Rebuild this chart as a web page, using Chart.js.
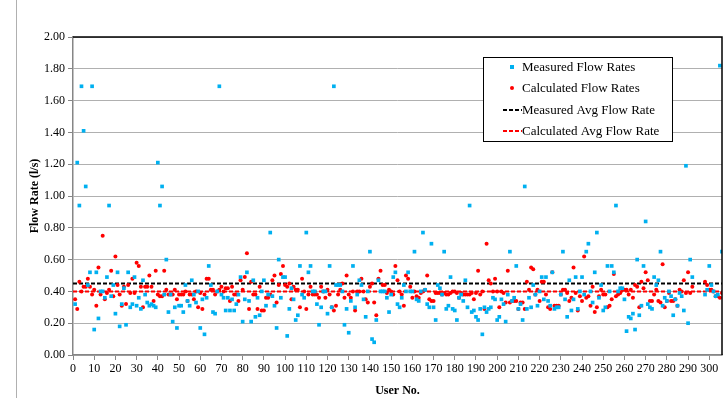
<!DOCTYPE html>
<html>
<head>
<meta charset="utf-8">
<script src="https://cdn.jsdelivr.net/npm/chart.js@4.4.1/dist/chart.umd.min.js"></script>
<style>
  html, body { margin: 0; padding: 0; background: #fff; }
  #wrap { width: 726px; height: 398px; position: relative; }
</style>
</head>
<body>
<div id="wrap"><canvas id="chart"></canvas></div>
<script>
// flow rates per user (l/s); users 293-297 have no reading
const measuredFlow = [
    0.32, 1.21, 0.94, 1.69, 1.41, 1.06, 0.44, 0.52, 1.69, 0.16,
    0.52, 0.23, 0.40, 0.40, 0.36, 0.49, 0.94, 0.37, 0.44, 0.26,
    0.52, 0.18, 0.32, 0.42, 0.19, 0.52, 0.30, 0.32, 0.49, 0.31,
    0.36, 0.29, 0.47, 0.38, 0.33, 0.31, 0.32, 0.31, 0.30, 1.21,
    0.94, 1.06, 0.38, 0.60, 0.27, 0.38, 0.21, 0.30, 0.17, 0.31,
    0.31, 0.27, 0.44, 0.34, 0.31, 0.47, 0.38, 0.33, 0.40, 0.17,
    0.35, 0.13, 0.36, 0.56, 0.44, 0.27, 0.26, 0.40, 1.69, 0.38,
    0.36, 0.28, 0.36, 0.28, 0.35, 0.28, 0.32, 0.38, 0.49, 0.21,
    0.35, 0.52, 0.34, 0.21, 0.47, 0.24, 0.36, 0.25, 0.40, 0.47,
    0.31, 0.38, 0.77, 0.37, 0.31, 0.17, 0.60, 0.36, 0.49, 0.49,
    0.12, 0.29,
    0.42, 0.35, 0.22, 0.25, 0.56, 0.38, 0.36, 0.77, 0.52, 0.56,
    0.40, 0.40, 0.32, 0.19, 0.30, 0.40, 0.40, 0.26, 0.56, 0.30,
    1.69, 0.44, 0.44, 0.44, 0.40, 0.19, 0.29, 0.14, 0.34, 0.56,
    0.30, 0.38, 0.47, 0.44, 0.35, 0.24, 0.40, 0.65, 0.10, 0.08,
    0.22, 0.47, 0.40, 0.40, 0.40, 0.36, 0.27, 0.38, 0.49, 0.52,
    0.32, 0.30,
    0.36, 0.44, 0.40, 0.52, 0.40, 0.40, 0.65, 0.35, 0.34, 0.40,
    0.77, 0.41, 0.32, 0.30, 0.70, 0.30, 0.22, 0.44, 0.42, 0.38,
    0.65, 0.29, 0.31, 0.49, 0.29, 0.28, 0.22, 0.36, 0.38, 0.34,
    0.47, 0.30, 0.94, 0.27, 0.28, 0.24, 0.22, 0.29, 0.13, 0.30,
    0.27, 0.29, 0.30, 0.36, 0.35, 0.22, 0.24, 0.35, 0.32, 0.21,
    0.38, 0.65,
    0.34, 0.36, 0.56, 0.29, 0.32, 0.22, 1.06, 0.29, 0.36, 0.30,
    0.44, 0.38, 0.31, 0.40, 0.49, 0.35, 0.49, 0.34, 0.31, 0.52,
    0.29, 0.30, 0.30, 0.38, 0.65, 0.35, 0.24, 0.47, 0.28, 0.35,
    0.49, 0.29, 0.40, 0.49, 0.38, 0.65, 0.70, 0.40, 0.33, 0.52,
    0.77, 0.36, 0.44, 0.28, 0.30, 0.56, 0.40, 0.56, 0.52, 0.94,
    0.40, 0.42,
    0.42, 0.35, 0.15, 0.24, 0.23, 0.26, 0.16, 0.60, 0.25, 0.31,
    0.56, 0.84, 0.32, 0.30, 0.29, 0.49, 0.44, 0.47, 0.65, 0.31,
    0.36, 0.34, 0.40, 0.37, 0.25, 0.35, 0.31, 0.39, 0.37, 0.28,
    1.19, 0.20, 0.60, 0.49,
    null, null, null, null, null,
    0.38, 0.41, 0.56, 0.44, 0.40, 0.37, 0.38, 1.82, 0.65
];

const calculatedFlow = [
    0.35, 0.29, 0.46, 0.40, 0.43, 0.43, 0.48, 0.43, 0.38, 0.41,
    0.31, 0.55, 0.38, 0.75, 0.35, 0.39, 0.41, 0.53, 0.37, 0.62,
    0.44, 0.38, 0.31, 0.43, 0.32, 0.44, 0.39, 0.48, 0.39, 0.58,
    0.56, 0.43, 0.30, 0.43, 0.43, 0.50, 0.43, 0.34, 0.53, 0.38,
    0.37, 0.37, 0.53, 0.41, 0.38, 0.38, 0.38, 0.41, 0.35, 0.38,
    0.38, 0.38, 0.40, 0.34, 0.38, 0.38, 0.35, 0.40, 0.30, 0.39,
    0.29, 0.38, 0.48, 0.48, 0.41, 0.41, 0.38, 0.40, 0.41, 0.43,
    0.40, 0.42, 0.42, 0.34, 0.43, 0.38, 0.38, 0.34, 0.47, 0.41,
    0.49, 0.64, 0.29, 0.46, 0.38, 0.38, 0.29, 0.43, 0.28, 0.28,
    0.36, 0.36, 0.38, 0.47, 0.50, 0.33, 0.44, 0.51, 0.56, 0.44,
    0.43, 0.45,
    0.35, 0.43, 0.41, 0.41, 0.30, 0.48, 0.40, 0.29, 0.38, 0.43,
    0.38, 0.38, 0.38, 0.36, 0.43, 0.40, 0.36, 0.41, 0.38, 0.30,
    0.28, 0.31, 0.38, 0.41, 0.45, 0.36, 0.50, 0.38, 0.36, 0.40,
    0.28, 0.40, 0.40, 0.48, 0.40, 0.35, 0.33, 0.43, 0.45, 0.33,
    0.25, 0.48, 0.53, 0.44, 0.44, 0.39, 0.41, 0.40, 0.38, 0.56,
    0.47, 0.40,
    0.38, 0.31, 0.50, 0.48, 0.43, 0.36, 0.40, 0.37, 0.36, 0.39,
    0.40, 0.41, 0.50, 0.35, 0.34, 0.34, 0.39, 0.39, 0.39, 0.38,
    0.39, 0.38, 0.38, 0.39, 0.40, 0.40, 0.39, 0.36, 0.39, 0.38,
    0.38, 0.38, 0.38, 0.39, 0.35, 0.39, 0.53, 0.38, 0.40, 0.29,
    0.70, 0.47, 0.45, 0.40, 0.48, 0.40, 0.30, 0.40, 0.39, 0.33,
    0.53, 0.33,
    0.34, 0.34, 0.34, 0.29, 0.33, 0.33, 0.29, 0.46, 0.41, 0.55,
    0.54, 0.38, 0.41, 0.34, 0.46, 0.46, 0.38, 0.30, 0.29, 0.52,
    0.31, 0.31, 0.31, 0.38, 0.41, 0.41, 0.39, 0.34, 0.36, 0.55,
    0.39, 0.28, 0.37, 0.34, 0.62, 0.36, 0.37, 0.31, 0.43, 0.27,
    0.30, 0.37, 0.41, 0.38, 0.38, 0.30, 0.31, 0.35, 0.51, 0.37,
    0.38, 0.39,
    0.41, 0.41, 0.41, 0.38, 0.41, 0.36, 0.44, 0.43, 0.30, 0.46,
    0.42, 0.52, 0.47, 0.34, 0.34, 0.38, 0.41, 0.34, 0.33, 0.57,
    0.30, 0.34, 0.39, 0.34, 0.34, 0.35, 0.31, 0.41, 0.40, 0.47,
    0.39, 0.52, 0.39, 0.43,
    null, null, null, null, null,
    0.46, 0.44, 0.41, 0.41, 0.40, 0.37, 0.37, 0.36, 0.39
];

const measuredAvg = 0.45;
const calculatedAvg = 0.40;
const userRange = [0, 306];
const userTicks = [0, 10, 20, 30, 40, 50, 60, 70, 80, 90, 100, 110, 120, 130, 140, 150,
    160, 170, 180, 190, 200, 210, 220, 230, 240, 250, 260, 270, 280, 290, 300];

const userNo = measuredFlow.map((_, i) => i + 1);

const toPoints = values => userNo
    .map((u, i) => ({ x: u, y: values[i] }))
    .filter(p => p.y !== null);

const avgLine = v => userRange.map(u => ({ x: u, y: v }));

const CYAN = '#00b0f0';
const RED = '#ff0000';
const SERIF = '"Liberation Serif", "Times New Roman", serif';

// plot frame (black top/right), outer chart edge and the boxed legend
const framePlugin = {
    id: 'frame',
    beforeDraw(chart) {
        const { ctx } = chart;
        ctx.save();
        ctx.strokeStyle = '#b0b0b0';
        ctx.lineWidth = 1;
        ctx.beginPath();
        ctx.moveTo(16.5, 0);
        ctx.lineTo(16.5, chart.height);
        ctx.stroke();
        ctx.restore();
    },
    afterDraw(chart) {
        const { ctx, chartArea: a } = chart;
        ctx.save();
        ctx.strokeStyle = '#000';
        ctx.lineWidth = 1.5;
        ctx.beginPath();
        ctx.moveTo(a.left, a.top);
        ctx.lineTo(a.right, a.top);
        ctx.lineTo(a.right, a.bottom);
        ctx.stroke();

        // legend box
        const bx = 483, by = 57, bw = 189, bh = 84;
        ctx.fillStyle = '#fff';
        ctx.fillRect(bx, by, bw, bh);
        ctx.strokeStyle = '#000';
        ctx.lineWidth = 1;
        ctx.strokeRect(bx + 0.5, by + 0.5, bw, bh);

        ctx.font = '13px ' + SERIF;
        ctx.textBaseline = 'middle';
        ctx.textAlign = 'left';
        const items = [
            { text: 'Measured Flow Rates', y: 67, kind: 'square', color: CYAN },
            { text: 'Calculated Flow Rates', y: 88, kind: 'dot', color: RED },
            { text: 'Measured Avg Flow Rate', y: 110, kind: 'dash', color: '#000' },
            { text: 'Calculated Avg Flow Rate', y: 131, kind: 'dash', color: RED }
        ];
        items.forEach(it => {
            if (it.kind === 'square') {
                ctx.fillStyle = it.color;
                ctx.fillRect(510, it.y - 2, 4, 4);
            } else if (it.kind === 'dot') {
                ctx.fillStyle = it.color;
                ctx.beginPath();
                ctx.arc(512, it.y, 2, 0, Math.PI * 2);
                ctx.fill();
            } else {
                ctx.strokeStyle = it.color;
                ctx.lineWidth = 2;
                ctx.setLineDash([4, 2]);
                ctx.beginPath();
                ctx.moveTo(503, it.y);
                ctx.lineTo(522, it.y);
                ctx.stroke();
                ctx.setLineDash([]);
            }
            ctx.fillStyle = '#000';
            ctx.fillText(it.text, 522, it.y + 1);
        });
        ctx.restore();
    }
};

new Chart(document.getElementById('chart'), {
    type: 'scatter',
    data: {
        datasets: [
            {
                label: 'Measured Flow Rates',
                data: toPoints(measuredFlow),
                pointStyle: 'rect',
                pointRadius: 2.6,
                backgroundColor: CYAN,
                borderWidth: 0
            },
            {
                label: 'Calculated Flow Rates',
                data: toPoints(calculatedFlow),
                pointStyle: 'circle',
                pointRadius: 2,
                backgroundColor: RED,
                borderWidth: 0
            },
            {
                type: 'line',
                label: 'Measured Avg Flow Rate',
                data: avgLine(measuredAvg),
                borderColor: '#000',
                borderWidth: 2,
                borderDash: [4, 2],
                pointRadius: 0,
                fill: false
            },
            {
                type: 'line',
                label: 'Calculated Avg Flow Rate',
                data: avgLine(calculatedAvg),
                borderColor: RED,
                borderWidth: 2,
                borderDash: [4, 2],
                pointRadius: 0,
                fill: false
            }
        ]
    },
    options: {
        responsive: true,
        maintainAspectRatio: false,
        animation: false,
        layout: { padding: { left: 0, top: 37, right: 4, bottom: 0 } },
        plugins: {
            legend: { display: false },
            tooltip: { enabled: false }
        },
        scales: {
            x: {
                type: 'linear',
                min: userRange[0],
                max: userRange[1],
                afterFit: s => { s.height = 43; },
                afterBuildTicks: s => {
                    s.ticks = userTicks.map(v => ({ value: v }));
                },
                ticks: {
                    autoSkip: false,
                    maxRotation: 0,
                    padding: 2,
                    color: '#000',
                    font: { family: SERIF, size: 12 }
                },
                grid: {
                    drawOnChartArea: false,
                    drawTicks: true,
                    tickLength: 5,
                    tickColor: '#868686'
                },
                border: { color: '#868686', width: 1.5 },
                title: {
                    display: true,
                    text: 'User No.',
                    color: '#000',
                    padding: { top: 0, bottom: 0 },
                    font: { family: SERIF, size: 12, weight: 'bold' }
                }
            },
            y: {
                min: 0,
                max: 2,
                afterFit: s => { s.width = 73; },
                ticks: {
                    stepSize: 0.2,
                    padding: 3,
                    color: '#000',
                    font: { family: SERIF, size: 12 },
                    callback: v => v.toFixed(2)
                },
                grid: {
                    color: '#b0b0b0',
                    lineWidth: 1,
                    tickLength: 5,
                    tickColor: '#868686'
                },
                border: { color: '#868686', width: 1.5 },
                title: {
                    display: true,
                    text: 'Flow Rate (l/s)',
                    color: '#000',
                    padding: { top: 28, bottom: 0 },
                    font: { family: SERIF, size: 12, weight: 'bold' }
                }
            }
        }
    },
    plugins: [framePlugin]
});
</script>
</body>
</html>
